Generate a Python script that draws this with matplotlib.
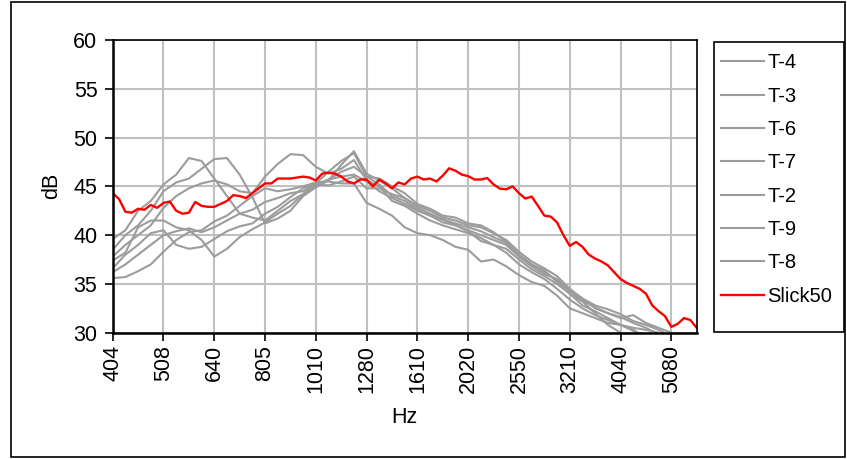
import numpy as np
import matplotlib
matplotlib.use("Agg")
import matplotlib.pyplot as plt
from matplotlib.patches import Rectangle

plt.rcParams['font.family'] = ['Liberation Sans', 'DejaVu Sans']

freq_labels = ["404", "508", "640", "805", "1010", "1280", "1610", "2020",
               "2550", "3210", "4040", "5080"]

# gray series sampled 4 points per labelled band, red 8 points per band
T4 = [39.6, 40.5, 42.5, 43.5, 45.2, 46.2, 47.9, 47.6, 45.8, 44.0, 42.2, 41.8,
      41.5, 42.5, 43.5, 44.2, 45.3, 46.5, 47.6, 48.4, 46.0, 45.2, 44.0, 43.5,
      42.6, 42.0, 41.6, 41.2, 40.8, 40.4, 39.8, 39.2, 38.0, 37.0, 36.2, 35.4,
      34.3, 33.3, 32.6, 32.0, 31.6, 31.0, 30.5, 29.8, 29.0, 28.5, 28.0]
T3 = [38.5, 40.0, 41.0, 42.5, 44.5, 45.4, 45.8, 46.8, 47.8, 47.9, 46.2, 43.9,
      41.2, 41.7, 42.5, 44.0, 44.9, 45.6, 47.2, 48.6, 46.3, 45.6, 44.8, 43.8,
      43.0, 42.5, 41.8, 41.5, 41.0, 40.8, 40.2, 39.5, 38.3, 37.3, 36.6, 35.8,
      34.5, 33.5, 32.8, 32.4, 31.9, 31.2, 30.8, 30.3, 29.6, 29.0, 28.5]
T6 = [37.8, 39.0, 40.0, 41.0, 42.8, 44.0, 44.8, 45.3, 45.6, 45.2, 44.5, 44.3,
      46.0, 47.3, 48.3, 48.2, 47.0, 46.3, 46.8, 47.7, 45.6, 45.0, 43.5, 43.0,
      42.2, 41.5, 41.0, 40.6, 40.2, 39.7, 39.0, 38.6, 37.5, 36.5, 35.8, 35.0,
      34.0, 32.8, 32.2, 31.5, 30.8, 30.2, 29.5, 29.0, 28.5, 28.0, 27.5]
T7 = [37.4, 38.2, 40.8, 41.5, 41.5, 40.8, 40.5, 39.5, 37.8, 38.6, 39.8, 40.6,
      41.3, 42.2, 43.0, 44.2, 45.0, 45.7, 46.5, 47.0, 46.0, 45.8, 45.0, 44.3,
      43.2, 42.7, 42.0, 41.8, 41.2, 41.0, 40.3, 39.3, 38.0, 37.0, 36.4, 35.2,
      34.0, 33.2, 32.0, 30.8, 30.0, 29.0, 28.5, 28.0, 27.5, 27.0, 26.5]
T2 = [36.6, 38.0, 39.0, 40.2, 40.5, 39.0, 38.6, 38.8, 39.6, 40.4, 40.9, 41.2,
      42.2, 42.9, 43.9, 44.8, 45.2, 45.7, 46.0, 46.2, 45.5, 44.5, 43.8, 43.2,
      42.5, 42.0, 41.3, 41.0, 40.5, 40.0, 39.5, 39.0, 37.8, 36.8, 36.0, 35.5,
      34.3, 33.5, 32.5, 32.0, 31.5, 31.8, 31.0, 30.5, 30.0, 29.2, 28.5]
T9 = [36.2, 37.0, 38.0, 39.0, 40.0, 40.4, 40.7, 40.3, 40.8, 41.5, 42.2, 42.6,
      43.4, 43.8, 44.3, 44.5, 45.2, 45.1, 45.5, 46.0, 44.8, 44.8, 44.2, 43.8,
      42.8, 42.2, 41.6, 41.0, 40.4, 39.4, 39.0, 38.2, 37.0, 36.2, 35.5, 34.5,
      33.4, 32.5, 31.8, 31.3, 30.8, 30.3, 29.5, 29.0, 28.5, 28.0, 27.5]
T8 = [35.6, 35.7, 36.3, 37.0, 38.3, 39.5, 40.3, 40.5, 41.4, 42.0, 43.0, 44.0,
      44.8, 44.5, 44.7, 45.0, 45.4, 45.5, 45.3, 45.3, 43.3, 42.7, 42.0, 40.8,
      40.2, 40.0, 39.5, 38.8, 38.5, 37.3, 37.5, 36.8, 35.9, 35.2, 34.8, 33.8,
      32.5, 32.0, 31.5, 31.0, 30.8, 30.5, 30.3, 30.0, 29.5, 29.0, 28.5]
Slick50 = [44.3, 43.7, 42.4, 42.3, 42.7, 42.6, 43.1, 42.8, 43.3, 43.45, 42.5,
           42.2, 42.3, 43.4, 43.0, 42.9, 42.9, 43.2, 43.5, 44.1, 44.0, 43.8,
           44.3, 44.8, 45.3, 45.3, 45.8, 45.8, 45.8, 45.9, 46.0, 45.9, 45.6,
           46.3, 46.4, 46.3, 46.0, 45.5, 45.3, 45.7, 45.7, 45.0, 45.7, 45.3,
           44.8, 45.4, 45.2, 45.8, 46.0, 45.7, 45.8, 45.5, 46.1, 46.85, 46.6,
           46.2, 46.05, 45.7, 45.7, 45.85, 45.2, 44.76, 44.7, 45.0, 44.3, 43.75,
           43.95, 43.0, 42.0, 41.9, 41.3, 40.0, 38.9, 39.3, 38.8, 38.0, 37.6,
           37.3, 36.9, 36.2, 35.5, 35.1, 34.8, 34.5, 34.0, 32.8, 32.2, 31.7,
           30.6, 30.9, 31.5, 31.3, 30.5]

gray_series = [("T-4", T4), ("T-3", T3), ("T-6", T6), ("T-7", T7),
               ("T-2", T2), ("T-9", T9), ("T-8", T8)]

W, H = 847, 459
fig = plt.figure(figsize=(W / 100, H / 100), dpi=100)
ax = fig.add_axes([112.7 / W, 1 - 332.7 / H, (696.7 - 112.7) / W, (332.7 - 40) / H])

gray = "#9c9c9c"
for name, vals in gray_series:
    x = np.arange(len(vals)) / 4.0
    ax.plot(x, vals, color=gray, lw=1.5, label=name)
xr = np.arange(len(Slick50)) / 8.0
ax.plot(xr, Slick50, color="#ff0000", lw=1.7, label="Slick50")

FS = 15.5
ax.set_xlim(0, 11.5)
ax.set_ylim(30, 60)
ax.set_yticks(np.arange(30, 61, 5))
ax.set_xticks(np.arange(len(freq_labels)))
ax.set_xticklabels(freq_labels, rotation=90, fontsize=FS)
ax.tick_params(axis='y', labelsize=FS, length=6, width=1.2, direction='out', pad=5)
ax.tick_params(axis='x', length=6, width=1.2, direction='out', pad=3)
ax.grid(True, color="#c0c0c0", lw=1.5)
ax.set_axisbelow(True)
for s in ax.spines.values():
    s.set_color("black")
    s.set_linewidth(1.2)
ax.spines['left'].set_linewidth(1.8)
ax.spines['bottom'].set_linewidth(1.8)

ax.set_ylabel("dB", fontsize=FS, labelpad=8)
ax.set_xlabel("Hz", fontsize=FS, labelpad=10)

leg = fig.legend(loc='upper left', bbox_to_anchor=(721 / W, 1 - 53.5 / H),
                 frameon=False, fontsize=14.5,
                 handlelength=2.15, handletextpad=0.15, labelspacing=0.71,
                 borderpad=0, borderaxespad=0)

# legend frame
fig.patches.append(Rectangle((714 / W, 1 - 331.7 / H), (844.3 - 714) / W,
                             (331.7 - 41.7) / H, transform=fig.transFigure,
                             fill=False, edgecolor='black', lw=1.2))
# chart area border
fig.patches.append(Rectangle((11 / W, 2 / H), (845 - 11) / W, (457 - 2) / H,
                             transform=fig.transFigure, fill=False,
                             edgecolor='black', lw=1.2))

fig.savefig("out.png", dpi=100)
